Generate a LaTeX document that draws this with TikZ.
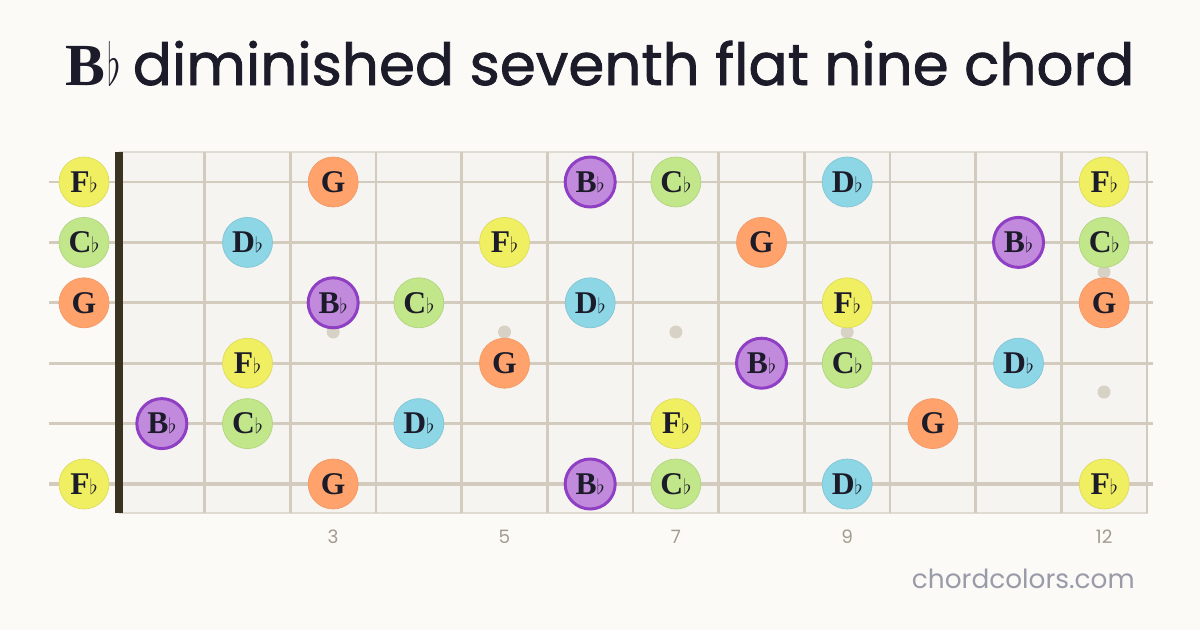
\documentclass[tikz,border=0pt]{standalone}
\usepackage{graphicx}
\usepackage{fontspec}
\setmainfont{Liberation Serif}
\newfontfamily\titlefont{Poppins}
\newfontfamily\headfont{Poppins}[FakeBold=1.4]
\usetikzlibrary{positioning}

\definecolor{bgcol}{HTML}{FBFAF7}
\definecolor{boardcol}{HTML}{F6F4F0}
\definecolor{wirecol}{HTML}{D3CBBE}
\definecolor{nutcol}{HTML}{3A3322}
\definecolor{dotcol}{HTML}{D8D2C6}
\definecolor{ink}{HTML}{1C1B29}
\definecolor{numcol}{HTML}{A29C8E}
\definecolor{sitecol}{HTML}{9A9BA8}
\definecolor{fyel}{HTML}{F0EF62}
\definecolor{cgrn}{HTML}{C2E68A}
\definecolor{gorg}{HTML}{FFA26B}
\definecolor{dblu}{HTML}{8DD6E6}
\definecolor{bpur}{HTML}{C28ADC}
\definecolor{bpurline}{HTML}{8E3FC3}

\newcommand{\fl}{{\fontsize{12}{12}\selectfont$\flat$}}

\begin{document}
\begin{tikzpicture}[
    x=0.02cm, y=-0.02cm,
    note/.style={circle, minimum size=1cm, inner sep=0pt, line width=0.4pt, text=ink, font=\fontsize{18}{18}\selectfont\bfseries},
    fnote/.style={note, fill=fyel, draw=fyel!92!black},
    cnote/.style={note, fill=cgrn, draw=cgrn!92!black},
    gnote/.style={note, fill=gorg, draw=gorg!95!black},
    dnote/.style={note, fill=dblu, draw=dblu!92!black},
    bnote/.style={note, fill=bpur, draw=bpurline, line width=1.7pt},
    fretline/.style={wirecol, line width=1.4pt},
    inlay/.style={circle, fill=dotcol, minimum size=13*0.02cm, inner sep=0pt},
    fretnum/.style={text=numcol, anchor=base, font=\titlefont\fontsize{10.5}{10.5}\selectfont}
]

% Background
\fill[bgcol] (0,0) rectangle (1200,630);

% Title
\node (title) [anchor=base, text=ink, inner sep=0pt] at (600,85)
  {{\fontsize{34}{34}\selectfont\bfseries B}\hspace{1pt}\scalebox{0.8}[1.35]{\fontsize{24.88}{25}\selectfont$\flat$}\hspace{7pt}{\headfont\fontsize{33}{33}\selectfont diminished seventh flat nine chord}};

% Fretboard
\fill[boardcol] (119,152) rectangle (1148,513);
\draw[wirecol!70, line width=0.8pt] (119,152) -- (1148,152);
\draw[wirecol!70, line width=0.8pt] (119,513) -- (1148,513);
\foreach \f in {1,...,12}
  \draw[fretline] ({119+85.67*\f},152) -- ({119+85.67*\f},513);

% Inlays
\foreach \f in {3,5,7,9}
  \node[inlay] (dot\f) at ({119+85.67*(\f-0.5)},332) {};
\node[inlay] (dot12a) at (1104,272) {};
\node[inlay] (dot12b) at (1104,392) {};

% Strings
\foreach \s in {1,...,6}
  \draw[wirecol, line width={(0.9+0.22*\s)*1pt}] (49,{182+60.4*(\s-1)}) -- (1153,{182+60.4*(\s-1)});

% Nut
\fill[nutcol] (115,152) rectangle (123,513);

% Notes
\foreach \s/\f/\lab/\kind in {
    1/0/F\fl/fnote, 1/3/G/gnote, 1/6/B\fl/bnote, 1/7/C\fl/cnote, 1/9/D\fl/dnote, 1/12/F\fl/fnote,
    2/0/C\fl/cnote, 2/2/D\fl/dnote, 2/5/F\fl/fnote, 2/8/G/gnote, 2/11/B\fl/bnote, 2/12/C\fl/cnote,
    3/0/G/gnote, 3/3/B\fl/bnote, 3/4/C\fl/cnote, 3/6/D\fl/dnote, 3/9/F\fl/fnote, 3/12/G/gnote,
    4/2/F\fl/fnote, 4/5/G/gnote, 4/8/B\fl/bnote, 4/9/C\fl/cnote, 4/11/D\fl/dnote,
    5/1/B\fl/bnote, 5/2/C\fl/cnote, 5/4/D\fl/dnote, 5/7/F\fl/fnote, 5/10/G/gnote,
    6/0/F\fl/fnote, 6/3/G/gnote, 6/6/B\fl/bnote, 6/7/C\fl/cnote, 6/9/D\fl/dnote, 6/12/F\fl/fnote}
{
  \pgfmathsetmacro\xx{\f==0 ? 84 : 119+85.67*(\f-0.5)}
  \node[\kind] (n\s-\f) at (\xx,{182+60.4*(\s-1)}) {\lab};
}

% Fret numbers
\foreach \f in {3,5,7,9,12}
  \node[fretnum] (num\f) at ({119+85.67*(\f-0.5)},543) {\f};

% Site name
\node (site) [anchor=base east, inner sep=0pt, text=sitecol, font=\titlefont\fontsize{15}{15}\selectfont] at (1135,588) {chordcolors.com};

\end{tikzpicture}
\end{document}
